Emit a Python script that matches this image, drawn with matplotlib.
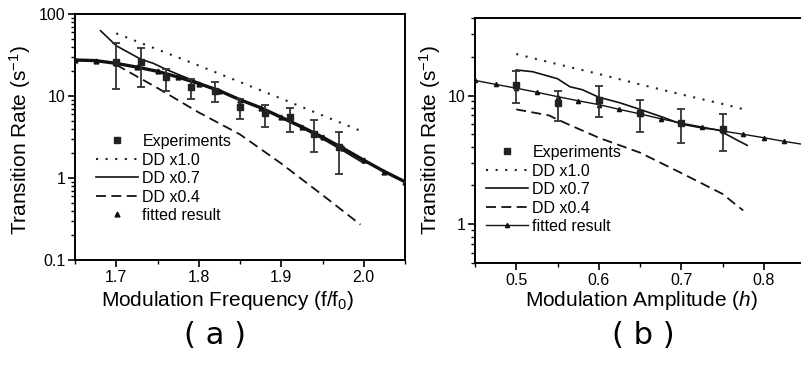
import matplotlib
matplotlib.use("Agg")
import matplotlib.pyplot as plt
from matplotlib.ticker import LogLocator, FixedLocator, MultipleLocator, FuncFormatter, NullFormatter
import numpy as np

plt.rcParams["mathtext.fontset"] = "custom"
plt.rcParams["mathtext.rm"] = "Liberation Sans"
plt.rcParams["mathtext.it"] = "Liberation Sans:italic"
plt.rcParams["mathtext.default"] = "rm"
FONT = "Liberation Sans"

# ---------------- Data: panel (a) ----------------
exp_a_x = [1.70, 1.73, 1.76, 1.79, 1.82, 1.85, 1.88, 1.91, 1.94, 1.97]
exp_a_y = [26.0, 26.0, 16.9, 13.0, 11.6, 7.3, 6.2, 5.5, 3.4, 2.37]
exp_a_lo = [12.2, 13.0, 11.5, 9.2, 8.4, 5.3, 4.2, 3.6, 2.06, 1.12]
exp_a_hi = [43.9, 38.2, 21.2, 16.0, 14.9, 9.2, 7.8, 7.2, 5.05, 3.67]

dd10_a_x = [1.70, 1.75, 1.80, 1.85, 1.90, 1.95, 1.995]
dd10_a_y = [58, 37, 23.5, 14.8, 9.3, 5.8, 3.8]

dd07_a_x = [1.681, 1.70, 1.73, 1.745, 1.76, 1.78, 1.79, 1.82, 1.85, 1.875, 1.90, 1.925, 1.95, 1.975, 2.0]
dd07_a_y = [62.5, 41, 28, 25, 21.2, 17.5, 16.0, 12.0, 9.0, 7.1, 5.4, 4.1, 3.0, 2.15, 1.52]

dd04_a_x = [1.70, 1.75, 1.80, 1.85, 1.90, 1.95, 1.996]
dd04_a_y = [24, 12.5, 6.3, 3.4, 1.5, 0.62, 0.27]

fit_a_x = [1.65, 1.675, 1.70, 1.725, 1.75, 1.775, 1.80, 1.825, 1.85, 1.875,
           1.90, 1.925, 1.95, 1.975, 2.0, 2.025, 2.05]
fit_a_y = [27.5, 27, 25, 22.5, 20, 17, 14.2, 11.6, 9.0, 7.2,
           5.5, 4.2, 3.15, 2.3, 1.65, 1.2, 0.9]

# ---------------- Data: panel (b) ----------------
exp_b_x = [0.50, 0.55, 0.60, 0.65, 0.70, 0.75]
exp_b_y = [12.0, 8.7, 9.3, 7.3, 6.1, 5.5]
exp_b_lo = [8.7, 6.3, 6.8, 5.2, 4.3, 3.7]
exp_b_hi = [15.5, 10.9, 11.8, 9.3, 7.9, 7.2]

dd10_b_x = [0.50, 0.55, 0.60, 0.65, 0.70, 0.75, 0.78]
dd10_b_y = [21, 17.5, 14.7, 12.2, 10.2, 8.6, 7.7]

dd07_b_x = [0.50, 0.52, 0.55, 0.565, 0.58, 0.60, 0.625, 0.65, 0.68, 0.70, 0.725, 0.745, 0.765, 0.78]
dd07_b_y = [15.8, 15.3, 13.5, 11.7, 11.1, 9.7, 8.8, 7.8, 6.7, 6.0, 5.6, 5.4, 4.6, 4.1]

dd04_b_x = [0.50, 0.54, 0.55, 0.60, 0.65, 0.70, 0.75, 0.775]
dd04_b_y = [7.8, 7.0, 6.5, 4.7, 3.6, 2.5, 1.72, 1.28]

fit_b_x = [0.45, 0.475, 0.50, 0.525, 0.55, 0.575, 0.60, 0.625, 0.65, 0.675,
           0.70, 0.725, 0.75, 0.775, 0.80, 0.825, 0.85]
fit_b_y = [13.1, 12.2, 11.4, 10.6, 9.8, 9.1, 8.5, 7.8, 7.2, 6.6,
           6.1, 5.7, 5.3, 5.0, 4.7, 4.4, 4.15]

labels = ["Experiments", "DD x1.0", "DD x0.7", "DD x0.4", "fitted result"]

W, H = 801, 368
fig = plt.figure(figsize=(W / 100, H / 100), dpi=100)

def px_axes(l, t, r, b):
    return fig.add_axes([l / W, 1 - b / H, (r - l) / W, (b - t) / H])

axa = px_axes(75, 14, 405, 260)
axb = px_axes(475, 18, 805, 263)

DOT = (0, (1.0, 3.6))
DASH = (0, (5.5, 3.0))

def style_axes(ax):
    for s in ax.spines.values():
        s.set_linewidth(1.4)
    ax.tick_params(which="major", direction="out", length=5, width=1.2,
                   labelsize=11.5, pad=2)
    ax.tick_params(which="minor", direction="out", length=3, width=1.0)
    for lab in ax.get_xticklabels() + ax.get_yticklabels():
        lab.set_fontfamily(FONT)

def plain(v, pos):
    if v >= 1:
        return "%d" % round(v)
    return ("%g" % v)

def panel(ax, ex, ey, elo, ehi, d10x, d10y, d07x, d07y, d04x, d04y, fx, fy, fit_line_legend):
    eb = ax.errorbar(ex, ey,
                     yerr=[np.array(ey) - np.array(elo), np.array(ehi) - np.array(ey)],
                     fmt="s", color="#222222", ms=4.5, ecolor="#333333", elinewidth=1.3,
                     capsize=3, capthick=1.3, zorder=5)
    l1, = ax.plot(d10x, d10y, color="#222222", lw=1.5, linestyle=DOT)
    l2, = ax.plot(d07x, d07y, color="#111111", lw=1.2)
    l3, = ax.plot(d04x, d04y, color="#111111", lw=1.3, linestyle=DASH)
    if fit_line_legend:
        l4, = ax.plot(fx, fy, color="#111111", lw=1.0, marker="^", ms=3.0, zorder=4)
    else:
        ax.plot(fx, fy, color="#111111", lw=2.4, zorder=4)
        l4, = ax.plot(fx, fy, linestyle="none", marker="^", ms=3.5, color="#111111", zorder=4)
    return [eb[0], l1, l2, l3, l4]

# ---------- Panel (a) ----------
ax = axa
ax.set_yscale("log")
ax.set_xlim(1.65, 2.05)
ax.set_ylim(0.1, 100)
h = panel(ax, exp_a_x, exp_a_y, exp_a_lo, exp_a_hi, dd10_a_x, dd10_a_y, dd07_a_x, dd07_a_y,
          dd04_a_x, dd04_a_y, fit_a_x, fit_a_y, False)
ax.yaxis.set_major_locator(FixedLocator([0.1, 1, 10, 100]))
ax.yaxis.set_major_formatter(FuncFormatter(plain))
ax.yaxis.set_minor_locator(LogLocator(base=10, subs=np.arange(2, 10)))
ax.yaxis.set_minor_formatter(NullFormatter())
ax.xaxis.set_major_locator(MultipleLocator(0.1))
ax.xaxis.set_minor_locator(MultipleLocator(0.05))
ax.xaxis.set_major_formatter(FuncFormatter(lambda v, p: "%.1f" % v))
style_axes(ax)
ax.legend(h, labels, loc="upper left",
          bbox_to_anchor=(96 / W, 1 - 134 / H), bbox_transform=fig.transFigure,
          frameon=False, borderpad=0, borderaxespad=0, handlelength=2.6,
          handletextpad=0.3, labelspacing=0.22,
          prop={"family": FONT, "size": 11.5})

# ---------- Panel (b) ----------
ax = axb
ax.set_yscale("log")
ax.set_xlim(0.45, 0.85)
ax.set_ylim(0.5, 40)
h = panel(ax, exp_b_x, exp_b_y, exp_b_lo, exp_b_hi, dd10_b_x, dd10_b_y, dd07_b_x, dd07_b_y,
          dd04_b_x, dd04_b_y, fit_b_x, fit_b_y, True)
ax.yaxis.set_major_locator(FixedLocator([1, 10]))
ax.yaxis.set_major_formatter(FuncFormatter(plain))
ax.yaxis.set_minor_locator(LogLocator(base=10, subs=np.arange(2, 10)))
ax.yaxis.set_minor_formatter(NullFormatter())
ax.xaxis.set_major_locator(MultipleLocator(0.1))
ax.xaxis.set_minor_locator(MultipleLocator(0.05))
ax.xaxis.set_major_formatter(FuncFormatter(lambda v, p: "%.1f" % v))
style_axes(ax)
ax.legend(h, labels, loc="upper left",
          bbox_to_anchor=(486 / W, 1 - 145 / H), bbox_transform=fig.transFigure,
          frameon=False, borderpad=0, borderaxespad=0, handlelength=2.6,
          handletextpad=0.3, labelspacing=0.22,
          prop={"family": FONT, "size": 11.5})

# ---------- Labels ----------
lab_kw = dict(fontfamily=FONT, fontsize=15, ha="center", va="center")
fig.text(228 / W, 1 - 300 / H, "Modulation Frequency (f/f$_0$)", **lab_kw)
fig.text(641 / W, 1 - 300 / H, "Modulation Amplitude ($\\mathit{h}$)", **lab_kw)
fig.text(20 / W, 1 - 140 / H, "Transition Rate (s$^{-1}$)", rotation=90, **lab_kw)
fig.text(430 / W, 1 - 140 / H, "Transition Rate (s$^{-1}$)", rotation=90, **lab_kw)
fig.text(215 / W, 1 - 336 / H, "( a )", fontfamily="DejaVu Sans", fontsize=22,
         ha="center", va="center")
fig.text(643 / W, 1 - 336 / H, "( b )", fontfamily="DejaVu Sans", fontsize=22,
         ha="center", va="center")

fig.savefig("out.png", dpi=100)
